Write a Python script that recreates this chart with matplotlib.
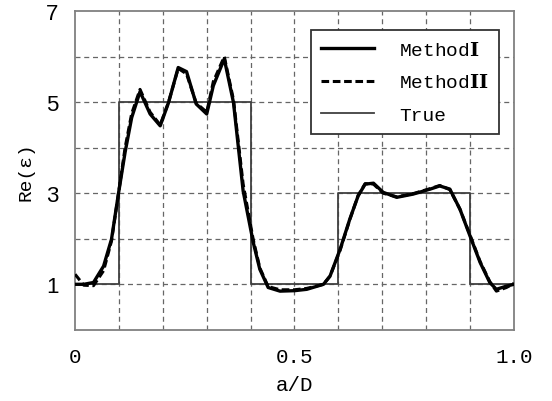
import matplotlib.pyplot as plt

plt.rcParams['mathtext.fontset'] = 'dejavuserif'

# a/D positions and Re(eps) values
x_m1 = [0, 0.02, 0.042, 0.065, 0.083, 0.099, 0.114, 0.129, 0.148, 0.171, 0.194, 0.213,
        0.235, 0.254, 0.276, 0.30, 0.315, 0.34, 0.361, 0.383, 0.406, 0.421, 0.44, 0.467,
        0.50, 0.528, 0.566, 0.581, 0.604, 0.626, 0.645, 0.661, 0.68, 0.702, 0.733, 0.77,
        0.809, 0.831, 0.854, 0.877, 0.90, 0.923, 0.945, 0.96, 0.983, 1.0]
y_m1 = [1.0, 1.0, 1.04, 1.40, 1.99, 3.0, 3.9, 4.66, 5.23, 4.74, 4.48, 4.99,
        5.76, 5.67, 4.96, 4.74, 5.36, 5.95, 4.99, 3.05, 1.92, 1.33, 0.93, 0.85,
        0.86, 0.89, 1.0, 1.18, 1.77, 2.43, 2.94, 3.2, 3.22, 3.02, 2.91, 2.98,
        3.09, 3.16, 3.09, 2.65, 2.06, 1.48, 1.04, 0.89, 0.96, 1.0]
y_m2 = [1.22, 0.98, 0.97, 1.30, 1.95, 3.0, 4.0, 4.75, 5.28, 4.78, 4.5, 5.0,
        5.74, 5.62, 4.98, 4.78, 5.45, 6.0, 5.05, 3.2, 1.98, 1.36, 0.95, 0.88,
        0.88, 0.91, 1.0, 1.18, 1.75, 2.42, 2.95, 3.21, 3.2, 3.0, 2.92, 2.99,
        3.1, 3.17, 3.08, 2.65, 2.08, 1.5, 1.06, 0.85, 0.93, 1.02]

x_true = [0, 0.1, 0.1, 0.4, 0.4, 0.6, 0.6, 0.9, 0.9, 1.0]
y_true = [1, 1, 5, 5, 1, 1, 3, 3, 1, 1]

mono = ['Liberation Mono', 'Noto Sans CJK JP']

fig = plt.figure(figsize=(5.52, 4.02), dpi=100)
ax = fig.add_axes([0.136, 0.177, 0.795, 0.793])

ax.plot(x_true, y_true, color='0.25', lw=1.3, label='True', zorder=3)
ax.plot(x_m1, y_m2, color='black', lw=2.2, ls=(0, (2.5, 1.2)),
        label=r'Method$\mathbf{II}$', zorder=4)
ax.plot(x_m1, y_m1, color='black', lw=2.4, label=r'Method$\mathbf{I}$', zorder=5)

ax.set_xlim(0, 1)
ax.set_ylim(0, 7)
ax.set_xticks([0, 0.5, 1.0])
ax.set_xticklabels(['0', '0.5', '1.0'], family=mono, fontsize=15)
ax.set_yticks([1, 3, 5, 7])
ax.set_yticklabels(['1', '3', '5', '7'], family='Liberation Sans', fontsize=16)
ax.tick_params(length=0, pad=12)

for gx in [0.1, 0.2, 0.3, 0.4, 0.5, 0.6, 0.7, 0.8, 0.9]:
    ax.axvline(gx, color='0.4', lw=0.9, ls=(0, (4, 3)), zorder=1)
for gy in [1, 2, 3, 4, 5, 6]:
    ax.axhline(gy, color='0.4', lw=0.9, ls=(0, (4, 3)), zorder=1)

for s in ax.spines.values():
    s.set_color('0.5')
    s.set_linewidth(1.3)

ax.set_xlabel('a/D', family=mono, fontsize=15, labelpad=7)
ax.set_ylabel('Re(ε)', family=['Liberation Mono', 'DejaVu Sans Mono'], fontsize=14, labelpad=8)

h, l = ax.get_legend_handles_labels()
leg = ax.legend(h[::-1], l[::-1], loc='upper right', bbox_to_anchor=(0.967, 0.94),
                prop={'family': mono, 'size': 14}, handlelength=2.7, handletextpad=1.3,
                labelspacing=0.75, borderpad=0.55, borderaxespad=0, fancybox=False,
                framealpha=1, edgecolor='0.2')
leg.get_frame().set_linewidth(1.3)

fig.savefig('out.png', dpi=100)
